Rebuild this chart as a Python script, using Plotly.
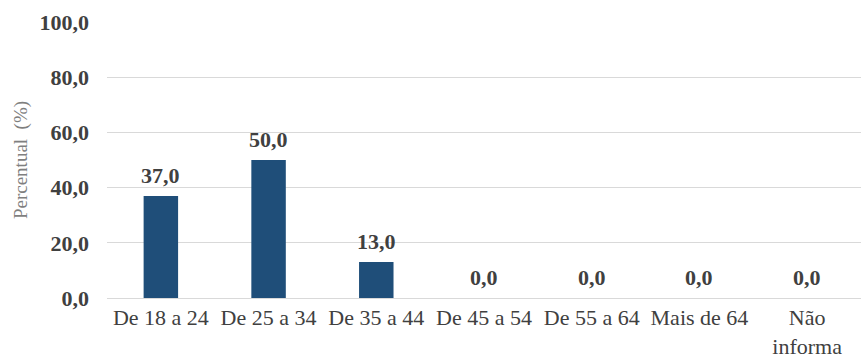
import plotly.graph_objects as go

categorias = ["De 18 a 24", "De 25 a 34", "De 35 a 44", "De 45 a 54",
              "De 55 a 64", "Mais de 64", "Não<br>informa"]
percentuais = [37.0, 50.0, 13.0, 0.0, 0.0, 0.0, 0.0]
ticks_y = [0, 20, 40, 60, 80, 100]

fonte = "Liberation Serif"

fig = go.Figure(go.Bar(
    x=categorias,
    y=percentuais,
    width=0.32,
    marker=dict(color="#1F4E79", line=dict(width=0)),
    cliponaxis=False,
))

# value labels above each bar
for cat, val in zip(categorias, percentuais):
    fig.add_annotation(
        x=cat, y=val, xref="x", yref="y",
        text=f"{val:.1f}".replace(".", ","),
        showarrow=False, yanchor="bottom", yshift=6,
        font=dict(family=fonte, size=22, color="#404040", weight="bold"),
    )

fig.update_layout(
    width=861, height=361,
    margin=dict(l=107, r=0, t=22, b=63),
    paper_bgcolor="white", plot_bgcolor="white",
    separators=",.",
    showlegend=False,
    font=dict(family=fonte),
)

fig.update_yaxes(
    range=[0, 100],
    tickvals=ticks_y,
    tickformat=".1f",
    tickfont=dict(family=fonte, size=22, color="#404040", weight="bold"),
    ticklabelstandoff=17,
    gridcolor="#D9D9D9", gridwidth=1,
    zeroline=False,
    showline=False,
    title=dict(text="Percentual  (%)", standoff=6,
               font=dict(family=fonte, size=19, color="#7F7F7F")),
)

fig.update_xaxes(
    tickfont=dict(family=fonte, size=22, color="#404040"),
    showline=True, linecolor="#D9D9D9", linewidth=1,
    ticks="", showgrid=False,
)

fig.write_html("out.html")
